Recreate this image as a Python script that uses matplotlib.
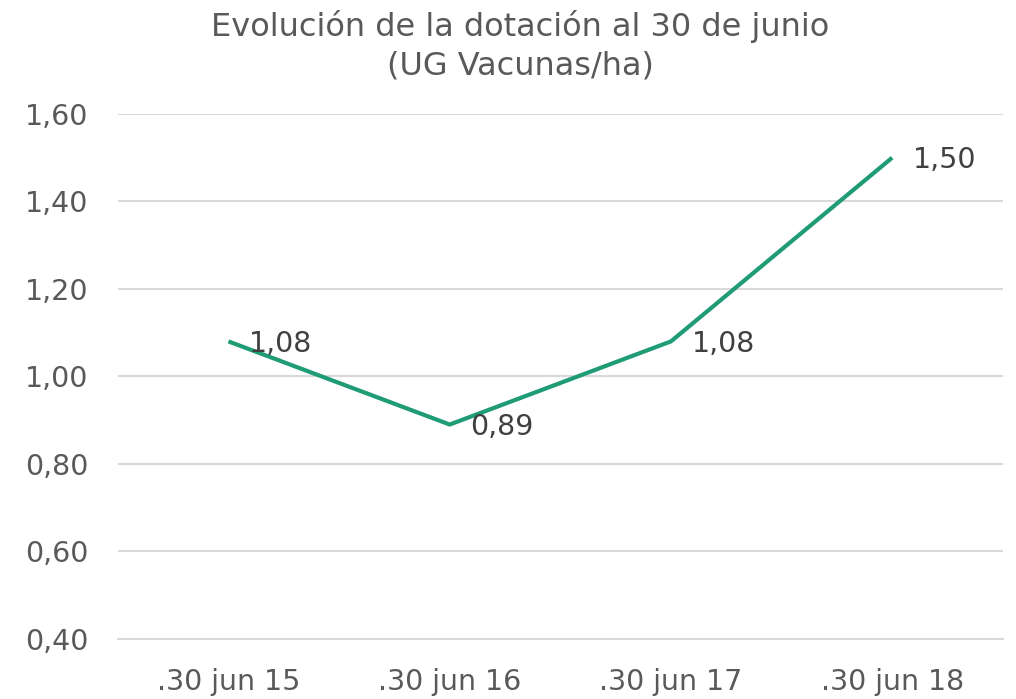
import matplotlib
matplotlib.use("Agg")
import matplotlib.pyplot as plt

# data
fechas = ['.30 jun 15', '.30 jun 16', '.30 jun 17', '.30 jun 18']
dotacion = [1.08, 0.89, 1.08, 1.50]
y_ticks = [0.40, 0.60, 0.80, 1.00, 1.20, 1.40, 1.60]

gris = '#595959'
verde = '#1f9b75'

plt.rcParams['font.family'] = ['DejaVu Sans']

fig = plt.figure(figsize=(10.16, 6.99), dpi=100)
ax = fig.add_axes([0.116, 0.086, 0.871, 0.751])

X = list(range(len(fechas)))
ax.plot(X, dotacion, color=verde, linewidth=3, solid_capstyle='butt', zorder=3)

for x, v in zip(X, dotacion):
    ax.annotate(('%.2f' % v).replace('.', ','), (x, v), xytext=(15, -2),
                textcoords='offset points', ha='left', va='center',
                fontsize=20.5, color='#404040', zorder=4)

ax.set_xlim(-0.5, 3.5)
ax.set_ylim(0.40, 1.60)
ax.set_yticks(y_ticks)
ax.set_yticklabels([('%.2f' % t).replace('.', ',') for t in y_ticks])
ax.set_xticks(X)
ax.set_xticklabels(fechas)
ax.tick_params(axis='both', length=0, labelsize=20.5, labelcolor=gris)
ax.tick_params(axis='y', pad=21)
ax.tick_params(axis='x', pad=21)

ax.grid(axis='y', color='#d9d9d9', linewidth=1.5)
ax.set_axisbelow(True)
for s in ['top', 'right', 'left']:
    ax.spines[s].set_visible(False)
ax.spines['bottom'].set_color('#d9d9d9')
ax.spines['bottom'].set_linewidth(1.5)

fig.text(0.512, 0.962, 'Evolución de la dotación al 30 de junio', ha='center', va='center',
         fontsize=23, color=gris)
fig.text(0.512, 0.905, '(UG Vacunas/ha)', ha='center', va='center',
         fontsize=23, color=gris)

fig.savefig('out.png', dpi=100)
